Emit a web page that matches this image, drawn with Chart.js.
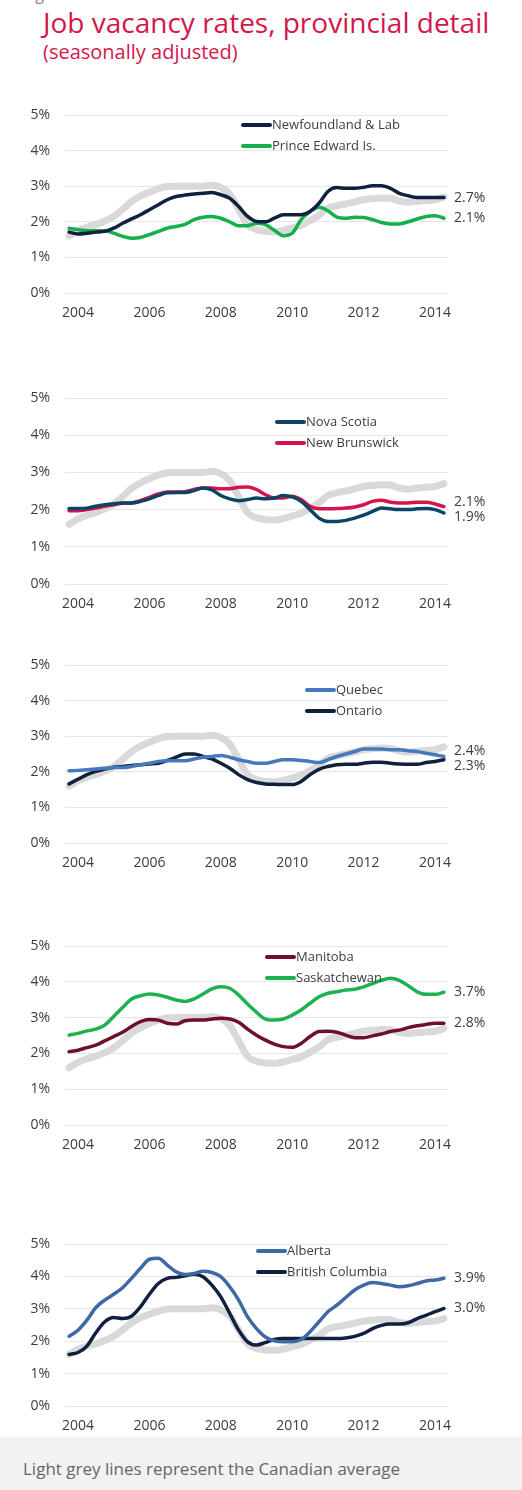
<!DOCTYPE html>
<html>
<head>
<meta charset="utf-8">
<title>Job vacancy rates, provincial detail</title>
<script src="https://cdn.jsdelivr.net/npm/chart.js"></script>
<style>
    body {
        margin: 0;
        width: 522px;
        height: 1490px;
        position: relative;
        overflow: hidden;
        background: #ffffff;
        font-family: "Open Sans", sans-serif;
    }

    .figure-label {
        position: absolute;
        left: 23px;
        top: -14px;
        font-size: 16px;
        line-height: 16px;
        color: #888888;
    }

    .title {
        position: absolute;
        left: 43px;
        top: 8px;
        font-size: 28px;
        line-height: 28px;
        color: #d4164b;
        white-space: nowrap;
    }

    .subtitle {
        position: absolute;
        left: 43px;
        top: 42px;
        font-size: 20px;
        line-height: 20px;
        color: #d4164b;
        white-space: nowrap;
    }

    .panel {
        position: absolute;
        left: 0;
        width: 522px;
    }

    .footer {
        position: absolute;
        left: 0;
        top: 1437px;
        width: 522px;
        height: 53px;
        background: #f2f2f2;
    }

    .footer span {
        position: absolute;
        left: 23px;
        top: 23px;
        font-size: 17px;
        line-height: 17px;
        color: #666666;
        white-space: nowrap;
    }
</style>
</head>
<body>
<div class="figure-label">Figure 3</div>
<div class="title">Job vacancy rates, provincial detail</div>
<div class="subtitle">(seasonally adjusted)</div>
<div id="panels"></div>
<div class="footer"><span>Light grey lines represent the Canadian average</span></div>

<script>
// quarterly observations, expressed as decimal years
const quarters = [2003.75,
    2004, 2004.25, 2004.5, 2004.75,
    2005, 2005.25, 2005.5, 2005.75,
    2006, 2006.25, 2006.5, 2006.75,
    2007, 2007.25, 2007.5, 2007.75,
    2008, 2008.25, 2008.5, 2008.75,
    2009, 2009.25, 2009.5, 2009.75,
    2010, 2010.25, 2010.5, 2010.75,
    2011, 2011.25, 2011.5, 2011.75,
    2012, 2012.25, 2012.5, 2012.75,
    2013, 2013.25, 2013.5, 2013.75,
    2014, 2014.25];

const yearTicks = [2004, 2006, 2008, 2010, 2012, 2014];
const percentTicks = [0, 1, 2, 3, 4, 5];

// Canadian average (grey line in every panel)
const canadaAvg = [1.6,
    1.75, 1.85, 1.92, 2.02,
    2.15, 2.35, 2.57, 2.72,
    2.83, 2.93, 2.99, 3.0,
    3.0, 3.0, 3.0, 3.03,
    2.97, 2.78, 2.35, 1.92,
    1.78, 1.73, 1.72, 1.76,
    1.83, 1.9, 2.03, 2.18,
    2.38, 2.45, 2.5, 2.56,
    2.62, 2.65, 2.67, 2.66,
    2.58, 2.55, 2.58, 2.6,
    2.62, 2.7];

const newfoundland = [1.71,
    1.66, 1.68, 1.71, 1.73,
    1.82, 1.96, 2.08, 2.2,
    2.34, 2.48, 2.62, 2.71,
    2.75, 2.78, 2.8, 2.82,
    2.76, 2.66, 2.43, 2.15,
    2.01, 2.0, 2.1, 2.2,
    2.2, 2.2, 2.29, 2.52,
    2.85, 2.96, 2.94, 2.94,
    2.97, 3.01, 3.01, 2.94,
    2.8, 2.73, 2.68, 2.68,
    2.68, 2.68];

const princeEdward = [1.82,
    1.78, 1.75, 1.75, 1.75,
    1.68, 1.59, 1.54, 1.56,
    1.64, 1.73, 1.82, 1.87,
    1.93, 2.06, 2.13, 2.15,
    2.1, 2.0, 1.89, 1.89,
    1.96, 1.92, 1.76, 1.61,
    1.68, 2.06, 2.29, 2.41,
    2.31, 2.13, 2.1, 2.13,
    2.12, 2.06, 1.98, 1.94,
    1.94, 2.0, 2.08, 2.15,
    2.17, 2.1];

const novaScotia = [2.03,
    2.03, 2.04, 2.09, 2.13,
    2.16, 2.18, 2.18, 2.22,
    2.29, 2.38, 2.45, 2.46,
    2.46, 2.51, 2.58, 2.53,
    2.38, 2.29, 2.24, 2.27,
    2.31, 2.29, 2.31, 2.38,
    2.34, 2.22, 2.0, 1.77,
    1.68, 1.68, 1.71, 1.77,
    1.85, 1.95, 2.04, 2.02,
    2.0, 2.0, 2.02, 2.03,
    2.0, 1.91];

const newBrunswick = [1.97,
    1.97, 2.0, 2.04, 2.09,
    2.13, 2.17, 2.18, 2.24,
    2.33, 2.42, 2.47, 2.47,
    2.48, 2.54, 2.58, 2.58,
    2.56, 2.56, 2.6, 2.61,
    2.54, 2.4, 2.31, 2.31,
    2.36, 2.27, 2.09, 2.02,
    2.02, 2.03, 2.04, 2.07,
    2.13, 2.22, 2.25, 2.2,
    2.18, 2.18, 2.2, 2.2,
    2.15, 2.08];

const quebec = [2.03,
    2.04, 2.06, 2.08, 2.1,
    2.12, 2.12, 2.15, 2.2,
    2.24, 2.29, 2.31, 2.31,
    2.31, 2.36, 2.41, 2.43,
    2.46, 2.41, 2.34, 2.29,
    2.24, 2.24, 2.29, 2.34,
    2.34, 2.32, 2.29, 2.26,
    2.34, 2.43, 2.5, 2.57,
    2.64, 2.64, 2.64, 2.62,
    2.62, 2.59, 2.57, 2.52,
    2.48, 2.43];

const ontario = [1.66,
    1.79, 1.92, 2.01, 2.08,
    2.13, 2.15, 2.18, 2.2,
    2.22, 2.24, 2.32, 2.41,
    2.5, 2.5, 2.43, 2.36,
    2.24, 2.1, 1.92, 1.78,
    1.7, 1.66, 1.65, 1.64,
    1.64, 1.73, 1.92, 2.07,
    2.15, 2.2, 2.21, 2.21,
    2.24, 2.27, 2.27, 2.24,
    2.22, 2.21, 2.21, 2.26,
    2.29, 2.34];

const manitoba = [2.05,
    2.09, 2.16, 2.23, 2.35,
    2.47, 2.59, 2.75, 2.89,
    2.95, 2.93, 2.84, 2.82,
    2.91, 2.93, 2.93, 2.96,
    2.98, 2.96, 2.87, 2.68,
    2.51, 2.37, 2.26, 2.19,
    2.17, 2.28, 2.47, 2.61,
    2.62, 2.59, 2.51, 2.44,
    2.44, 2.49, 2.54, 2.61,
    2.65, 2.72, 2.77, 2.81,
    2.84, 2.84];

const saskatchewan = [2.51,
    2.56, 2.63, 2.68, 2.79,
    3.03, 3.28, 3.52, 3.61,
    3.66, 3.63, 3.57, 3.49,
    3.45, 3.52, 3.66, 3.8,
    3.86, 3.82, 3.63, 3.38,
    3.15, 2.96, 2.93, 2.96,
    3.07, 3.21, 3.4, 3.58,
    3.68, 3.72, 3.77, 3.79,
    3.86, 3.95, 4.04, 4.1,
    4.04, 3.89, 3.72, 3.65,
    3.65, 3.71];

const alberta = [2.15,
    2.34, 2.65, 3.04, 3.27,
    3.45, 3.65, 3.94, 4.25,
    4.53, 4.56, 4.35, 4.14,
    4.06, 4.09, 4.16, 4.12,
    3.99, 3.68, 3.27, 2.75,
    2.39, 2.13, 2.01, 1.98,
    1.98, 2.05, 2.29, 2.6,
    2.91, 3.11, 3.35, 3.58,
    3.73, 3.81, 3.78, 3.73,
    3.68, 3.71, 3.78, 3.86,
    3.89, 3.94];

const britishColumbia = [1.59,
    1.65, 1.85, 2.26, 2.6,
    2.73, 2.7, 2.77, 3.06,
    3.45, 3.78, 3.94, 3.97,
    4.02, 4.07, 3.99, 3.73,
    3.37, 2.86, 2.34, 1.98,
    1.88, 1.96, 2.05, 2.08,
    2.08, 2.08, 2.08, 2.08,
    2.08, 2.08, 2.1, 2.15,
    2.24, 2.39, 2.49, 2.53,
    2.53, 2.57, 2.7, 2.8,
    2.91, 3.01];

const NAVY = '#10213f';
const GREY = '#d9d9d9';
const TEXT = '#3c3c3c';
const FONT = '"Open Sans", sans-serif';

// page layout of each small chart (top = 5% gridline, height = 5% to 0%)
const panels = [
    { top: 115, height: 178, legendX: 243, legendY: 125, series: [
        { label: 'Newfoundland & Lab', values: newfoundland, color: NAVY },
        { label: 'Prince Edward Is.', values: princeEdward, color: '#14b04c' } ] },
    { top: 398, height: 186, legendX: 277, legendY: 422, series: [
        { label: 'Nova Scotia', values: novaScotia, color: '#0b4468' },
        { label: 'New Brunswick', values: newBrunswick, color: '#d7144a' } ] },
    { top: 665, height: 178, legendX: 307, legendY: 690, series: [
        { label: 'Quebec', values: quebec, color: '#4579bb' },
        { label: 'Ontario', values: ontario, color: NAVY } ] },
    { top: 946, height: 179, legendX: 267, legendY: 957, series: [
        { label: 'Manitoba', values: manitoba, color: '#6e0f2c' },
        { label: 'Saskatchewan', values: saskatchewan, color: '#1db24e' } ] },
    { top: 1244, height: 162, legendX: 258, legendY: 1251, series: [
        { label: 'Alberta', values: alberta, color: '#3d6aa5' },
        { label: 'British Columbia', values: britishColumbia, color: NAVY } ] }
];

// the y axis asks for label height/2 + tick padding above the plot, so keep at least that
const PAD_TOP = 26;
const AXIS_W = 65;
const AXIS_H = 30;
const PAD_RIGHT = 74;

function toPoints(values) {
    return values.map((v, i) => ({ x: quarters[i], y: v }));
}

// legend rows and the end-of-line value labels
const extrasPlugin = {
    id: 'extras',
    afterDatasetsDraw(chart, args, opts) {
        const ctx = chart.ctx;
        const area = chart.chartArea;
        ctx.save();

        const ends = [];
        chart.data.datasets.forEach((ds, i) => {
            if (!ds.endLabel) return;
            const meta = chart.getDatasetMeta(i);
            const last = meta.data[meta.data.length - 1];
            ends.push({ y: last.y, text: ds.endLabel });
        });
        ends.sort((a, b) => a.y - b.y);
        if (ends.length === 2 && ends[1].y - ends[0].y < 15) {
            const mid = (ends[0].y + ends[1].y) / 2;
            ends[0].y = mid - 7.5;
            ends[1].y = mid + 7.5;
        }
        ctx.font = '14px ' + FONT;
        ctx.fillStyle = TEXT;
        ctx.textAlign = 'left';
        ctx.textBaseline = 'middle';
        ends.forEach(e => ctx.fillText(e.text, area.right + 6, e.y));

        ctx.font = '13px ' + FONT;
        opts.items.forEach((item, k) => {
            const y = opts.y + k * 21;
            ctx.strokeStyle = item.color;
            ctx.lineWidth = 4;
            ctx.lineCap = 'round';
            ctx.beginPath();
            ctx.moveTo(opts.x, y);
            ctx.lineTo(opts.x + 27, y);
            ctx.stroke();
            ctx.fillStyle = TEXT;
            ctx.fillText(item.label, opts.x + 29, y);
        });
        ctx.restore();
    }
};

function drawPanel(panel) {
    const holder = document.createElement('div');
    holder.className = 'panel';
    holder.style.top = (panel.top - PAD_TOP) + 'px';
    holder.style.height = (panel.height + PAD_TOP + AXIS_H) + 'px';
    const canvas = document.createElement('canvas');
    holder.appendChild(canvas);
    document.getElementById('panels').appendChild(holder);

    const datasets = panel.series.map((s, i) => ({
        label: s.label,
        data: toPoints(s.values),
        borderColor: s.color,
        borderWidth: 3.5,
        endLabel: s.values[s.values.length - 1].toFixed(1) + '%',
        order: i + 1
    }));
    datasets.push({
        label: 'Canada',
        data: toPoints(canadaAvg),
        borderColor: GREY,
        borderWidth: 7,
        order: 5
    });

    new Chart(canvas.getContext('2d'), {
        type: 'line',
        data: { datasets: datasets },
        options: {
            responsive: true,
            maintainAspectRatio: false,
            animation: false,
            layout: { padding: { top: PAD_TOP, right: PAD_RIGHT, bottom: 0, left: 0 } },
            elements: {
                point: { radius: 0 },
                line: { tension: 0.4, cubicInterpolationMode: 'monotone', borderCapStyle: 'round', borderJoinStyle: 'round' }
            },
            plugins: {
                legend: { display: false },
                tooltip: { enabled: false },
                extras: {
                    x: panel.legendX,
                    y: panel.legendY - (panel.top - PAD_TOP),
                    items: panel.series.map(s => ({ label: s.label, color: s.color }))
                }
            },
            scales: {
                x: {
                    type: 'linear',
                    min: 2003.636,
                    max: 2014.364,
                    grid: { display: false },
                    border: { display: false },
                    afterFit: scale => { scale.height = AXIS_H; },
                    afterBuildTicks: scale => { scale.ticks = yearTicks.map(v => ({ value: v })); },
                    ticks: {
                        padding: 4,
                        maxRotation: 0,
                        color: TEXT,
                        font: { family: FONT, size: 14 },
                        callback: v => String(v)
                    }
                },
                y: {
                    min: 0,
                    max: 5,
                    grid: { color: '#e6e6e6', lineWidth: 1, drawTicks: false },
                    border: { display: false },
                    afterFit: scale => { scale.width = AXIS_W; },
                    afterBuildTicks: scale => { scale.ticks = percentTicks.map(v => ({ value: v })); },
                    ticks: {
                        padding: 15,
                        color: TEXT,
                        font: { family: FONT, size: 14 },
                        callback: v => v + '%'
                    }
                }
            }
        },
        plugins: [extrasPlugin]
    });
}

panels.forEach(drawPanel);
</script>
</body>
</html>
